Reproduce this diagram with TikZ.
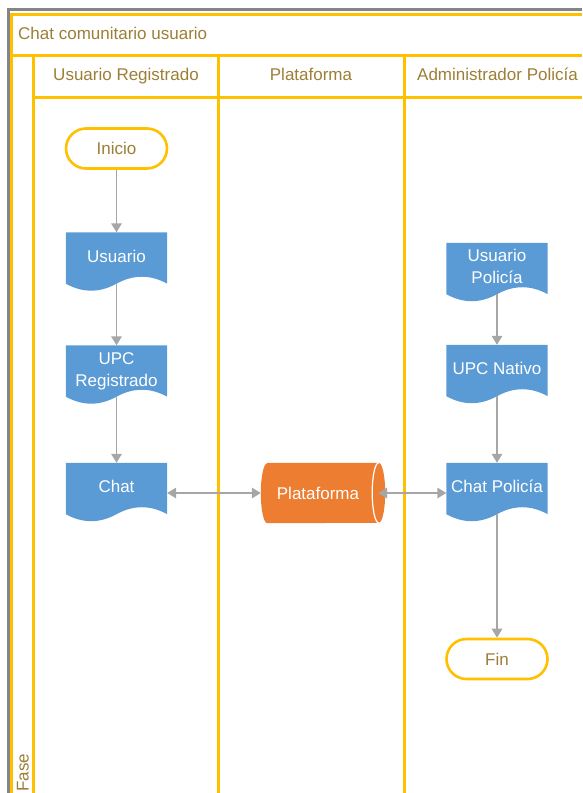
\documentclass[tikz,border=0pt]{standalone}
\usepackage{fontspec}
\setmainfont{Liberation Sans}
\usetikzlibrary{arrows.meta,calc}
\definecolor{lanegold}{HTML}{FFC000}
\definecolor{labgold}{HTML}{9C7E36}
\definecolor{docblue}{HTML}{5B9BD5}
\definecolor{platorange}{HTML}{ED7D31}
\definecolor{arrowgray}{HTML}{A6A6A6}
\definecolor{shadowgray}{HTML}{858585}
\pgfdeclarelayer{bg}
\pgfsetlayers{bg,main}
\newcommand\lab{\fontsize{17pt}{22pt}\selectfont}
\newcommand\dtxt[1]{\raisebox{3.5pt}{\begin{tabular}{@{}c@{}}#1\end{tabular}}}
\begin{document}
\begin{tikzpicture}[x=1pt,y=-1pt,
 lane/.style={draw=lanegold,line width=3pt},
 hdr/.style={font=\lab,text=labgold,inner sep=0pt,text height=12pt,text depth=3.5pt},
 docnode/.style={minimum width=101pt,minimum height=51pt,inner sep=0pt,text=white,font=\lab},
 term/.style={draw=lanegold,line width=2.6pt,fill=white,rounded corners=20pt,minimum width=101pt,minimum height=40pt,inner sep=0pt,text=labgold,font=\lab},
 flow/.style={draw=arrowgray,line width=1.7pt,-{Triangle[width=10.5pt,length=9pt]}},
 biflow/.style={draw=arrowgray,line width=1.7pt,{Triangle[width=10.5pt,length=9pt]}-{Triangle[width=10.5pt,length=9pt]}},
]
\useasboundingbox (0,0) rectangle (582,793);
% frame and lanes
\draw[shadowgray,line width=2.2pt] (8.5,793) -- (8.5,9.5) -- (582,9.5);
\draw[lane] (11.5,793) -- (11.5,14.5) -- (582,14.5);
\draw[lane] (11.5,55) -- (582,55);
\draw[lane] (33.5,55) -- (33.5,793);
\draw[lane] (33.5,97) -- (582,97);
\draw[lane] (218,55) -- (218,793);
\draw[lane] (404.5,55) -- (404.5,793);
% headers
\node[hdr,anchor=west] (title) at (18,35) {Chat comunitario usuario};
\node[hdr] (h1) at (126,76) {Usuario Registrado};
\node[hdr] (h2) at (311,76) {Plataforma};
\node[hdr] (h3) at (497.5,76) {Administrador Policía};
\node[font=\lab,text=labgold,inner sep=0pt,rotate=90,anchor=base west] (fase) at (28.5,792) {Fase};
% terminals
\node[term] (inicio) at (116.5,148.5) {Inicio};
\node[term] (fin) at (497,659) {Fin};
% documents
\node[docnode] (usr) at (116.5,258) {\dtxt{Usuario}};
\node[docnode] (upcr) at (116.5,371) {\dtxt{UPC\\Registrado}};
\node[docnode] (chat) at (116.5,488.5) {\dtxt{Chat}};
\node[docnode] (usp) at (497,268.5) {\dtxt{Usuario\\Policía}};
\node[docnode] (upcn) at (497,370.5) {\dtxt{UPC Nativo}};
\node[docnode] (chatp) at (497,488.5) {\dtxt{Chat Policía}};
% platform cylinder
\node[minimum width=124pt,minimum height=60pt,inner sep=0pt,text=white,font=\lab] (plat) at (323,493) {Plataforma\kern10pt};
\begin{pgfonlayer}{bg}
\foreach \nm in {usr,upcr,chat,usp,upcn,chatp}{
 \path[fill=docblue] let \p1=(\nm.north west), \p2=(\nm.south east) in
  (\x1,\y1) -- (\x2,\y1) -- (\x2,\y2)
  .. controls ({\x2-(\x2-\x1)/6},{\y2+9.3pt}) and ({\x2-(\x2-\x1)/3},{\y2+9.3pt}) .. ({\x2-(\x2-\x1)/2},\y2)
  .. controls ({\x1+(\x2-\x1)/3},{\y2-9.3pt}) and ({\x1+(\x2-\x1)/6},{\y2-9.3pt}) .. (\x1,\y2) -- cycle;
}
\path[fill=platorange] let \p1=(plat.north west), \p2=(plat.south east) in
 ({\x1+6.5pt},\y1) -- ({\x2-6.5pt},\y1) arc[start angle=90,end angle=-90,x radius=6.5pt,y radius=30pt]
 -- ({\x1+6.5pt},\y2) arc[start angle=270,end angle=90,x radius=6.5pt,y radius=30pt] -- cycle;
\draw[white,line width=1.2pt] let \p2=(plat.north east) in
 ({\x2-6.5pt},\y2) arc[start angle=90,end angle=270,x radius=6.5pt,y radius=30pt];
\end{pgfonlayer}
% connectors
\draw[flow] (inicio) -- (usr);
\draw[flow] (usr) -- (upcr);
\draw[flow] (upcr) -- (chat);
\draw[flow] (usp) -- (upcn);
\draw[flow] (upcn) -- (chatp);
\draw[flow] (chatp) -- (fin);
\draw[biflow] (chat.east |- plat.center) -- (plat.west);
\draw[biflow,shorten <=-7pt] (plat.east) -- (chatp.west |- plat.center);
\end{tikzpicture}
\end{document}
